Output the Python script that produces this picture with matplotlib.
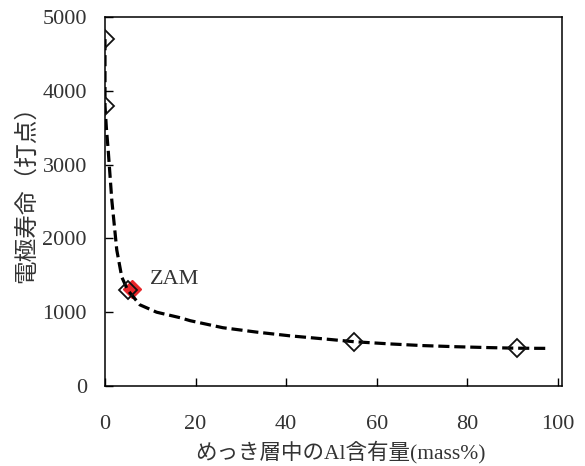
import matplotlib
matplotlib.use("Agg")
import matplotlib.pyplot as plt

plt.rcParams['lines.scale_dashes'] = False

# data
open_x = [0, 0, 5, 55, 91]
open_y = [4700, 3800, 1300, 600, 510]
zam_x = [6]
zam_y = [1310]
curve_x = [0, 0, 0.3, 0.7, 1.5, 2.6, 3.7, 5.0, 7.7, 11.4, 16.6, 18.8, 26, 33.5, 40.8, 48, 55, 63, 70, 77.6, 85, 91, 97.5]
curve_y = [4700, 3800, 3500, 3200, 2520, 1843, 1477, 1300, 1100, 1000, 925, 885, 790, 730, 680, 640, 600, 570, 548, 532, 520, 512, 510]
xticks = [0, 20, 40, 60, 80, 100]
yticks = [0, 1000, 2000, 3000, 4000, 5000]

fig = plt.figure(figsize=(5.85, 4.66), dpi=100)
ax = fig.add_axes([105/585, 1-386/466, (562-105)/585, (386-17)/466])

ax.plot(zam_x, zam_y, linestyle='none', marker='D', markersize=9.5,
        color='#e8262a', markeredgecolor='#e8262a', zorder=2)
ax.plot(curve_x, curve_y, color='black', linewidth=2.3, dashes=(8, 3.5), zorder=3)
ax.plot(open_x, open_y, linestyle='none', marker='D', markersize=9.5,
        markerfacecolor='none', markeredgecolor='#111111', markeredgewidth=1.3, zorder=4)

ax.text(10, 1440, 'ZAM', fontsize=16, family=['Liberation Serif'], color='#333333',
        va='center', ha='left')

ax.set_xlim(0, 100.9)
ax.set_ylim(0, 5000)
ax.set_xticks(xticks)
ax.set_yticks(yticks)
ax.tick_params(direction='in', length=6, width=1, top=False, right=False,
               labelsize=16, labelcolor='#333333')
ax.tick_params(axis='x', pad=21)
ax.tick_params(axis='y', pad=13)
for lbl in ax.get_xticklabels() + ax.get_yticklabels():
    lbl.set_family(['Liberation Serif'])
for s in ax.spines.values():
    s.set_linewidth(1.1)
    s.set_color('black')

ax.set_xlabel('めっき層中のAl含有量(mass%)', fontsize=15.5,
              family=['Liberation Serif', 'Noto Sans CJK JP'], color='#333333')
ax.set_ylabel('電極寿命（打点）', fontsize=17,
              family=['Liberation Serif', 'Noto Sans CJK JP'], color='#333333')
ax.xaxis.set_label_coords(0.514, -0.148)
ax.yaxis.set_label_coords(-0.147, 0.535)

fig.savefig('out.png', dpi=100)
